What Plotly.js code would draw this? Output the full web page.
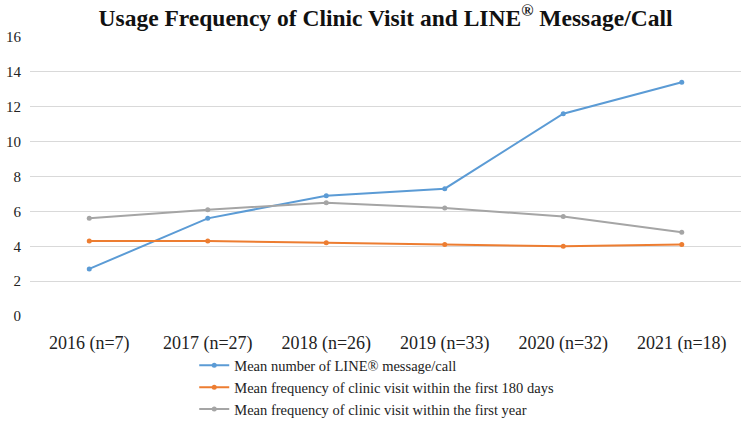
<!DOCTYPE html>
<html>
<head>
<meta charset="utf-8">
<script src="https://cdn.plot.ly/plotly-3.0.1.min.js"></script>
<style>html,body{margin:0;padding:0;background:#fff;}#chart{width:749px;height:422px;}</style>
</head>
<body>
<div id="chart"></div>
<script>
const categories = ["2016 (n=7)", "2017 (n=27)", "2018 (n=26)", "2019 (n=33)", "2020 (n=32)", "2021 (n=18)"];
const lineMessages = [2.7, 5.6, 6.9, 7.3, 11.6, 13.4];
const visits180 = [4.3, 4.3, 4.2, 4.1, 4.0, 4.1];
const visitsYear = [5.6, 6.1, 6.5, 6.2, 5.7, 4.8];
const seriesNames = [
  "Mean number of LINE® message/call",
  "Mean frequency of clinic visit within the first 180 days",
  "Mean frequency of clinic visit within the first year"
];
const yTicks = [0, 2, 4, 6, 8, 10, 12, 14, 16];

const colors = ["#5B9BD5", "#ED7D31", "#A5A5A5"];
const mk = (y, i) => ({
  x: categories, y: y, name: seriesNames[i], type: "scatter", mode: "lines+markers",
  line: {color: colors[i], width: 2}, marker: {color: colors[i], size: 5}
});
const data = [mk(lineMessages, 0), mk(visits180, 1), mk(visitsYear, 2)];
const font = "'Liberation Serif', 'Times New Roman', serif";
const layout = {
  width: 749, height: 422,
  margin: {l: 30, r: 8, t: 37, b: 106, autoexpand: false},
  paper_bgcolor: "#fff", plot_bgcolor: "#fff",
  font: {family: font, size: 15, color: "#222"},
  title: {text: "<b>Usage Frequency of Clinic Visit and LINE<sup>®</sup> Message/Call</b>", font: {family: font, size: 23.5, color: "#111"}, x: 0.5, xanchor: "center", xref: "paper", y: 0.958, yanchor: "middle"},
  xaxis: {type: "category", range: [-0.5, 5.5], showgrid: false, showline: false, zeroline: false, ticks: "", tickfont: {size: 18}, ticklabelstandoff: 14, fixedrange: true},
  yaxis: {range: [0, 16], tickvals: yTicks, showgrid: true, gridcolor: "#D9D9D9", gridwidth: 1, zeroline: false, showline: false, ticks: "", tickfont: {size: 15}, ticklabelstandoff: 8},
  showlegend: true,
  legend: {orientation: "v", x: 0.231, xanchor: "left", yref: "container", y: 0.172, yanchor: "top", font: {family: font, size: 14.5, color: "#222"}, tracegroupgap: 0, itemwidth: 30, bgcolor: "rgba(0,0,0,0)"}
};
Plotly.newPlot("chart", data, layout, {displayModeBar: false, staticPlot: true});
</script>
</body>
</html>
